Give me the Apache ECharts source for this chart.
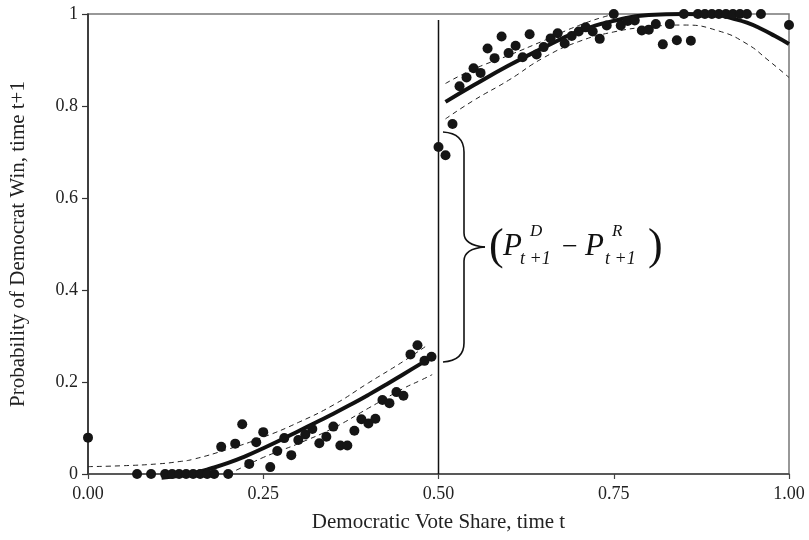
<!DOCTYPE html>
<html>
<head>
<meta charset="utf-8">
<script src="https://cdn.jsdelivr.net/npm/echarts@6/dist/echarts.min.js"></script>
<style>html,body{margin:0;padding:0;background:#fff;}#c{width:809px;height:540px;}</style>
</head>
<body>
<div id="c"></div>
<script>
// ---- Data ----
const xTicks = ['0.00', '0.25', '0.50', '0.75', '1.00'];
const yTicks = ['0', '0.2', '0.4', '0.6', '0.8', '1'];

// Binned observations, left of the 0.5 threshold
const leftShare = [0.00, 0.07, 0.09, 0.11, 0.12, 0.13, 0.14, 0.15, 0.16, 0.17, 0.18, 0.19, 0.20, 0.21, 0.22, 0.23, 0.24, 0.25, 0.26, 0.27, 0.28, 0.29, 0.30, 0.31, 0.32, 0.33, 0.34, 0.35, 0.36, 0.37, 0.38, 0.39, 0.40, 0.41, 0.42, 0.43, 0.44, 0.45, 0.46, 0.47, 0.48, 0.49];
const leftWin   = [0.079, 0, 0, 0, 0, 0, 0, 0, 0, 0, 0, 0.059, 0, 0.066, 0.108, 0.022, 0.069, 0.091, 0.015, 0.050, 0.078, 0.041, 0.074, 0.086, 0.098, 0.067, 0.081, 0.103, 0.062, 0.062, 0.094, 0.119, 0.110, 0.120, 0.161, 0.154, 0.178, 0.170, 0.260, 0.280, 0.246, 0.255];

// Binned observations, right of the threshold
const rightShare = [0.50, 0.51, 0.52, 0.53, 0.54, 0.55, 0.56, 0.57, 0.58, 0.59, 0.60, 0.61, 0.62, 0.63, 0.64, 0.65, 0.66, 0.67, 0.68, 0.69, 0.70, 0.71, 0.72, 0.73, 0.74, 0.75, 0.76, 0.77, 0.78, 0.79, 0.80, 0.81, 0.82, 0.83, 0.84, 0.85, 0.86, 0.87, 0.88, 0.89, 0.90, 0.91, 0.92, 0.93, 0.94, 0.96, 1.00];
const rightWin   = [0.711, 0.693, 0.761, 0.843, 0.862, 0.882, 0.872, 0.925, 0.904, 0.951, 0.915, 0.931, 0.906, 0.956, 0.912, 0.928, 0.947, 0.958, 0.936, 0.952, 0.962, 0.971, 0.962, 0.946, 0.975, 1.0, 0.975, 0.985, 0.986, 0.964, 0.966, 0.978, 0.934, 0.978, 0.943, 1.0, 0.942, 1.0, 1.0, 1.0, 1.0, 1.0, 1.0, 1.0, 1.0, 1.0, 0.976];

// Fitted curve (thick) and confidence bands (dashed), left side
const fitLeftX = [0.105, 0.125, 0.15, 0.175, 0.2, 0.225, 0.25, 0.275, 0.3, 0.325, 0.35, 0.375, 0.4, 0.425, 0.45, 0.475, 0.491];
const fitLeftY = [-0.008, -0.005, 0.002, 0.012, 0.024, 0.039, 0.056, 0.074, 0.093, 0.112, 0.131, 0.151, 0.172, 0.194, 0.217, 0.240, 0.255];
const upLeftX = [0.0, 0.05, 0.1, 0.13, 0.15, 0.2, 0.25, 0.3, 0.35, 0.4, 0.45, 0.484];
const upLeftY = [0.016, 0.018, 0.022, 0.027, 0.032, 0.054, 0.080, 0.112, 0.150, 0.198, 0.245, 0.280];
const loLeftX = [0.2, 0.225, 0.25, 0.275, 0.3, 0.35, 0.4, 0.45, 0.475, 0.491];
const loLeftY = [0.0, 0.018, 0.036, 0.051, 0.066, 0.100, 0.143, 0.186, 0.204, 0.216];

// Right side
const fitRightX = [0.51, 0.55, 0.6, 0.65, 0.7, 0.75, 0.8, 0.85, 0.9, 0.92, 0.94, 0.96, 0.98, 1.0];
const fitRightY = [0.809, 0.845, 0.888, 0.927, 0.962, 0.985, 0.998, 1.0, 0.997, 0.990, 0.981, 0.968, 0.952, 0.935];
const upRightX = [0.51, 0.55, 0.6, 0.65, 0.7, 0.75, 0.8, 0.85, 0.9, 0.95, 1.0];
const upRightY = [0.849, 0.880, 0.910, 0.942, 0.975, 1.0, 1.02, 1.03, 1.03, 1.02, 1.005];
const loRightX = [0.51, 0.55, 0.6, 0.65, 0.7, 0.75, 0.8, 0.85, 0.9, 0.94, 0.97, 1.0];
const loRightY = [0.772, 0.812, 0.856, 0.905, 0.940, 0.961, 0.972, 0.976, 0.963, 0.935, 0.900, 0.862];

const threshold = 0.5;
const thresholdTop = 0.987;

// ---- Build chart ----
const zip = (a, b) => a.map((v, i) => [v, b[i]]);
const FONT = '"Liberation Serif", "Times New Roman", serif';
const chart = echarts.init(document.getElementById('c'), null, {renderer: 'canvas'});

const dashStyle = {color: '#222', width: 1, type: [5, 4]};
const fitStyle = {color: '#111', width: 4};
const braceStyle = {fill: null, stroke: '#111', lineWidth: 1.6};

const option = {
  animation: false,
  backgroundColor: '#fff',
  grid: {left: 86, right: 20, top: 14, bottom: 66, show: true, borderColor: '#777', borderWidth: 1.5, backgroundColor: 'transparent'},
  xAxis: {
    type: 'value', min: 0, max: 1, interval: 0.25,
    name: 'Democratic Vote Share, time t', nameLocation: 'middle', nameGap: 38,
    nameTextStyle: {fontFamily: FONT, fontSize: 21, color: '#222'},
    axisLine: {show: true, lineStyle: {color: '#444', width: 1.5}},
    axisTick: {show: true, inside: false, length: 5, lineStyle: {color: '#444', width: 1.2}},
    axisLabel: {margin: 11, fontFamily: FONT, fontSize: 18, color: '#222', formatter: (v) => xTicks[Math.round(v * 4)]},
    splitLine: {show: false}
  },
  yAxis: {
    type: 'value', min: 0, max: 1, interval: 0.2,
    name: 'Probability of Democrat Win, time t+1', nameLocation: 'middle', nameGap: 59,
    nameTextStyle: {fontFamily: FONT, fontSize: 21, color: '#222'},
    axisLine: {show: true, lineStyle: {color: '#222', width: 1.5}},
    axisTick: {show: true, inside: false, length: 6, lineStyle: {color: '#333', width: 1.2}},
    axisLabel: {margin: 10, fontFamily: FONT, fontSize: 18, color: '#222', formatter: (v) => yTicks[Math.round(v * 5)]},
    splitLine: {show: false}
  },
  series: [
    {type: 'line', data: [[threshold, 0], [threshold, thresholdTop]], showSymbol: false, lineStyle: {color: '#111', width: 1.5}, z: 1},
    {type: 'line', data: zip(upLeftX, upLeftY), smooth: true, showSymbol: false, lineStyle: dashStyle, z: 2},
    {type: 'line', data: zip(loLeftX, loLeftY), smooth: true, showSymbol: false, lineStyle: dashStyle, z: 2},
    {type: 'line', data: zip(fitLeftX, fitLeftY), smooth: true, showSymbol: false, clip: false, lineStyle: fitStyle, z: 3},
    {type: 'line', data: zip(upRightX, upRightY), smooth: true, showSymbol: false, clip: true, lineStyle: dashStyle, z: 2},
    {type: 'line', data: zip(loRightX, loRightY), smooth: true, showSymbol: false, lineStyle: dashStyle, z: 2},
    {type: 'line', data: zip(fitRightX, fitRightY), smooth: true, showSymbol: false, lineStyle: fitStyle, z: 3},
    {type: 'scatter', data: zip(leftShare, leftWin).concat(zip(rightShare, rightWin)), symbolSize: 10, clip: false, itemStyle: {color: '#151515', opacity: 1}, z: 4}
  ],
  graphic: [
    {type: 'bezierCurve', shape: {x1: 443, y1: 132, cpx1: 458, cpy1: 133, cpx2: 464, cpy2: 140, x2: 464, y2: 152}, style: braceStyle},
    {type: 'line', shape: {x1: 464, y1: 152, x2: 464, y2: 233}, style: braceStyle},
    {type: 'bezierCurve', shape: {x1: 464, y1: 233, cpx1: 464, cpy1: 242, cpx2: 472, cpy2: 246, x2: 485, y2: 247}, style: braceStyle},
    {type: 'bezierCurve', shape: {x1: 485, y1: 247, cpx1: 472, cpy1: 248, cpx2: 464, cpy2: 252, x2: 464, y2: 261}, style: braceStyle},
    {type: 'line', shape: {x1: 464, y1: 261, x2: 464, y2: 343}, style: braceStyle},
    {type: 'bezierCurve', shape: {x1: 464, y1: 343, cpx1: 464, cpy1: 354, cpx2: 458, cpy2: 361, x2: 443, y2: 362}, style: braceStyle},
    {type: 'text', x: 489, y: 247, style: {text: '(', font: '44px ' + FONT, fill: '#111', verticalAlign: 'middle'}},
    {type: 'text', x: 503, y: 247, style: {text: 'P', font: 'italic 31px ' + FONT, fill: '#111', verticalAlign: 'middle'}},
    {type: 'text', x: 530, y: 232, style: {text: 'D', font: 'italic 17px ' + FONT, fill: '#111', verticalAlign: 'middle'}},
    {type: 'text', x: 520, y: 259, style: {text: 't +1', font: 'italic 18px ' + FONT, fill: '#111', verticalAlign: 'middle'}},
    {type: 'text', x: 562, y: 248, style: {text: '\u2212', font: '28px ' + FONT, fill: '#111', verticalAlign: 'middle'}},
    {type: 'text', x: 585, y: 247, style: {text: 'P', font: 'italic 31px ' + FONT, fill: '#111', verticalAlign: 'middle'}},
    {type: 'text', x: 612, y: 232, style: {text: 'R', font: 'italic 17px ' + FONT, fill: '#111', verticalAlign: 'middle'}},
    {type: 'text', x: 605, y: 259, style: {text: 't +1', font: 'italic 18px ' + FONT, fill: '#111', verticalAlign: 'middle'}},
    {type: 'text', x: 648, y: 247, style: {text: ')', font: '44px ' + FONT, fill: '#111', verticalAlign: 'middle'}}
  ]
};
chart.setOption(option);
</script>
</body>
</html>
